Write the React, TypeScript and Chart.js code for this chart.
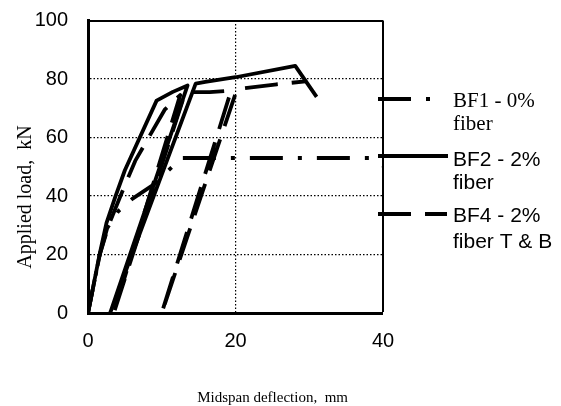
import { useEffect, useRef } from "react";
import { Chart, registerables } from "chart.js";

Chart.register(...registerables);

// Load–deflection records (deflection in mm, load in kN)
const bf1Deflection = [0, 1.6, 2.6, 4.1, 6.0, 8.8, 12.7, 41.0, 40.0];
const bf1Load = [0, 20, 29, 34.8, 39, 43.7, 53, 53, 49.5];

const bf2Deflection = [0, 1.6, 2.5, 3.7, 5.0, 9.3, 11.5, 13.5, 3.0, 14.6, 15.9, 20.0, 28.1, 31.0];
const bf2Load = [0, 20.4, 30.7, 39.7, 48.8, 72.6, 75.6, 77.8, 0, 78.4, 79.0, 80.6, 84.5, 73.9];

const bf4Deflection = [0, 1.6, 2.8, 4.4, 6.4, 10.4, 12.5, 3.5, 13.2, 16.5, 19.4, 10.0, 20.2, 25.6, 29.5];
const bf4Load = [0, 20, 30, 40, 52, 69.5, 74.5, 0, 75.5, 75.5, 76.0, 0, 76.5, 78.2, 79.2];

const seriesNames = ["BF1 - 0%", "BF2 - 2%", "BF4 - 2%"];
const seriesSubNames = ["fiber", "fiber", "fiber T & B"];

const xTitle = "Midspan deflection,  mm";
const yTitle = "Applied load,  kN";

const SANS = "'Liberation Sans', Arial, sans-serif";
const SERIF = "'Liberation Serif', 'Times New Roman', serif";

const DASH_DOT = [33, 15, 4, 15];
const DASH = [33, 14];
const GRID_DASH = [1.5, 2];

const toPoints = (xs: number[], ys: number[]) => xs.map((x, i) => ({ x, y: ys[i] }));

// Draws the side legend and both axis titles
const sideTextPlugin = {
  id: "sideText",
  afterDraw(chart: any) {
    const ctx: CanvasRenderingContext2D = chart.ctx;
    const area = chart.chartArea;
    ctx.save();

    // legend
    const sampleStart = area.right - 5;
    const samples = [
      { dash: DASH_DOT, end: sampleStart + 54, lineY: 99, base1: 107, base2: 130, font: SERIF },
      { dash: [] as number[], end: sampleStart + 70, lineY: 156, base1: 166, base2: 189, font: SANS },
      { dash: DASH, end: sampleStart + 69, lineY: 214, base1: 222, base2: 248, font: SANS },
    ];
    samples.forEach((s, i) => {
      ctx.beginPath();
      ctx.setLineDash(s.dash);
      ctx.lineWidth = 4;
      ctx.lineCap = "butt";
      ctx.strokeStyle = "#000";
      ctx.moveTo(sampleStart, s.lineY);
      ctx.lineTo(s.end, s.lineY);
      ctx.stroke();
      ctx.setLineDash([]);
      ctx.fillStyle = "#000";
      ctx.textAlign = "left";
      ctx.textBaseline = "alphabetic";
      ctx.font = `21px ${s.font}`;
      ctx.fillText(seriesNames[i], area.right + 70, s.base1);
      ctx.fillText(seriesSubNames[i], area.right + 70, s.base2);
    });

    // x title
    ctx.font = `15px ${SERIF}`;
    ctx.textAlign = "right";
    ctx.textBaseline = "alphabetic";
    ctx.fillText(xTitle, 348, 402);

    // y title
    ctx.save();
    ctx.translate(31, 197);
    ctx.rotate(-Math.PI / 2);
    ctx.font = `20px ${SERIF}`;
    ctx.textAlign = "center";
    ctx.textBaseline = "alphabetic";
    ctx.fillText(yTitle, 0, 0);
    ctx.restore();

    ctx.restore();
  },
};

export default function App() {
  const canvasRef = useRef<HTMLCanvasElement | null>(null);

  useEffect(() => {
    const canvas = canvasRef.current;
    if (!canvas) return;

    const lineStyle = {
      borderColor: "#000",
      borderWidth: 3.8,
      pointRadius: 0,
      pointHoverRadius: 0,
      tension: 0,
      fill: false,
      borderCapStyle: "butt" as const,
      borderJoinStyle: "round" as const,
    };

    const chart = new Chart(canvas, {
      type: "line",
      data: {
        datasets: [
          {
            ...lineStyle,
            label: seriesNames[0],
            data: toPoints(bf1Deflection, bf1Load),
            borderDash: DASH_DOT,
            borderDashOffset: 9.5,
          },
          { ...lineStyle, label: seriesNames[1], data: toPoints(bf2Deflection, bf2Load), borderDash: [] },
          {
            ...lineStyle,
            label: seriesNames[2],
            data: toPoints(bf4Deflection, bf4Load),
            borderDash: DASH,
            borderDashOffset: 46,
          },
        ],
      },
      options: {
        animation: false,
        responsive: false,
        layout: { padding: { top: 20.5, right: 178, bottom: 0, left: 0 } },
        plugins: {
          legend: { display: false },
          tooltip: { enabled: false },
          title: { display: false },
        },
        scales: {
          x: {
            type: "linear",
            min: 0,
            max: 40,
            ticks: {
              stepSize: 20,
              color: "#000",
              padding: 16,
              maxRotation: 0,
              font: { family: SANS, size: 20 },
            },
            grid: {
              drawTicks: false,
              color: "#000",
              lineWidth: (c: any) => (c.tick && c.tick.value === 0 ? 0 : c.tick && c.tick.value === 40 ? 2 : 1.2),
            },
            border: {
              color: "#000",
              width: 3,
              dash: (c: any) => (c.tick && c.tick.value === 40 ? [] : GRID_DASH),
            },
            afterFit: (s: any) => {
              s.height = 93;
              s.paddingLeft = 0;
              s.paddingRight = 0;
            },
          },
          y: {
            type: "linear",
            min: 0,
            max: 100,
            ticks: {
              stepSize: 20,
              color: "#000",
              padding: 20,
              font: { family: SANS, size: 20 },
            },
            grid: {
              drawTicks: false,
              color: "#000",
              lineWidth: (c: any) => (c.tick && c.tick.value === 0 ? 0 : c.tick && c.tick.value === 100 ? 2 : 1.2),
            },
            border: {
              color: "#000",
              width: 3,
              dash: (c: any) => (c.tick && c.tick.value === 100 ? [] : GRID_DASH),
            },
            afterFit: (s: any) => {
              s.width = 88;
              s.paddingTop = 0;
              s.paddingBottom = 0;
            },
          },
        },
      },
      plugins: [sideTextPlugin],
    });

    return () => chart.destroy();
  }, []);

  return (
    <div style={{ position: "absolute", left: 0, top: 0, width: 561, height: 406, background: "#fff" }}>
      <canvas ref={canvasRef} width={561} height={406} style={{ display: "block" }} />
    </div>
  );
}
